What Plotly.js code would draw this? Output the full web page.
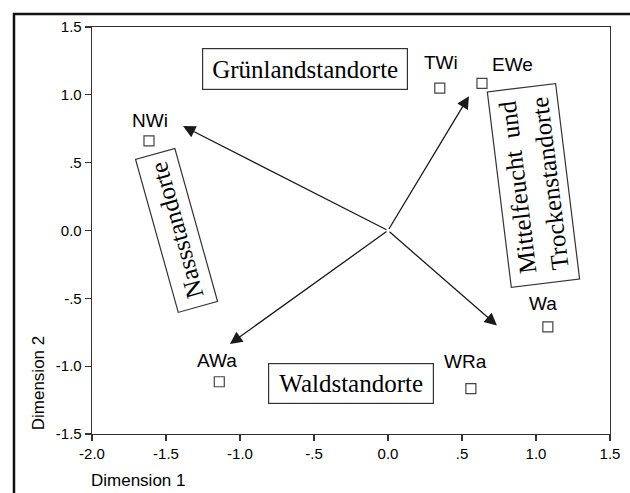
<!DOCTYPE html>
<html>
<head>
<meta charset="utf-8">
<script src="https://cdn.plot.ly/plotly-3.0.1.min.js"></script>
<style>
  html, body { margin: 0; padding: 0; background: #ffffff; }
  #chart { width: 630px; height: 493px; }
</style>
</head>
<body>
<div id="chart"></div>
<script>
// ---- data ----
const siteNames = ["NWi", "TWi", "EWe", "Wa", "WRa", "AWa"];
const dim1 = [-1.615, 0.35, 0.635, 1.08, 0.56, -1.14];
const dim2 = [0.66, 1.05, 1.085, -0.71, -1.165, -1.115];

// arrow tips (vectors from origin)
const vecX = [-1.385, 0.547, 0.736, -1.068];
const vecY = [0.77, 0.99, -0.70, -0.836];

// group labels
const groupText = ["Grünlandstandorte", "Nassstandorte", "Mittelfeucht&nbsp; und<br>Trockenstandorte", "Waldstandorte"];
const groupX = [-0.564, -1.432, 0.986, -0.25];
const groupY = [1.19, 0.0, 0.332, -1.127];

const tickVals = [-2, -1.5, -1, -0.5, 0, 0.5, 1, 1.5];
const xTickText = ["-2.0", "-1.5", "-1.0", "-.5", "0.0", ".5", "1.0", "1.5"];
const yTickVals = [-1.5, -1, -0.5, 0, 0.5, 1, 1.5];
const yTickText = ["-1.5", "-1.0", "-.5", "0.0", ".5", "1.0", "1.5"];

// ---- styles ----
const labelShiftX = [1, 1, 31, -5, -5, -2];
const labelShiftY = [20, 26, 19, 23, 27, 21];
const groupAngle = [0, -105.6, -97, 0];
const groupW = [204, 158, 196, 164];
const groupH = [40, 40, 68, 39];

const sans = "Liberation Sans, Arial, sans-serif";
const serif = "Liberation Serif, Times New Roman, serif";

const trace = {
  type: "scatter",
  mode: "markers",
  x: dim1,
  y: dim2,
  marker: { symbol: "square-open", size: 10, color: "#444", line: { width: 1.2, color: "#444" } },
  hoverinfo: "skip",
  showlegend: false
};

const annotations = [];
siteNames.forEach((n, i) => {
  annotations.push({
    x: dim1[i], y: dim2[i], xref: "x", yref: "y",
    text: n, showarrow: false,
    xshift: labelShiftX[i], yshift: labelShiftY[i],
    font: { family: sans, size: 19, color: "#000" }
  });
});
vecX.forEach((vx, i) => {
  annotations.push({
    x: vx, y: vecY[i], xref: "x", yref: "y",
    ax: 0, ay: 0, axref: "x", ayref: "y",
    text: "", showarrow: true,
    arrowhead: 2, arrowsize: 1.9, arrowwidth: 1.3, arrowcolor: "#1a1a1a",
    standoff: 0, startstandoff: 0
  });
});
groupText.forEach((t, i) => {
  annotations.push({
    x: groupX[i], y: groupY[i], xref: "x", yref: "y",
    text: t, showarrow: false, textangle: groupAngle[i],
    width: groupW[i], height: groupH[i],
    bordercolor: "#333", borderwidth: 1.2, borderpad: 0,
    bgcolor: "rgba(255,255,255,0)",
    font: { family: serif, size: 25, color: "#000" }
  });
});
// axis titles
annotations.push({
  x: 0, y: -0.085, xref: "paper", yref: "paper",
  xanchor: "left", yanchor: "top", xshift: -3,
  text: "Dimension 1", showarrow: false,
  font: { family: sans, size: 17, color: "#000" }
});
annotations.push({
  x: -0.104, y: 0.125, xref: "paper", yref: "paper",
  xanchor: "center", yanchor: "middle",
  text: "Dimension 2", showarrow: false, textangle: -90,
  font: { family: sans, size: 17, color: "#000" }
});

const axisCommon = {
  showgrid: false, zeroline: false,
  showline: true, mirror: true, linecolor: "#333", linewidth: 1.3,
  ticks: "outside", ticklen: 6, tickwidth: 1.2, tickcolor: "#333",
  tickfont: { family: sans, size: 15, color: "#000" },
  fixedrange: true
};

const layout = {
  width: 630, height: 493,
  margin: { l: 92, r: 20, t: 27, b: 59 },
  paper_bgcolor: "#ffffff", plot_bgcolor: "#ffffff",
  showlegend: false,
  xaxis: Object.assign({}, axisCommon, { range: [-2, 1.5], tickvals: tickVals, ticktext: xTickText }),
  yaxis: Object.assign({}, axisCommon, { range: [-1.5, 1.5], tickvals: yTickVals, ticktext: yTickText }),
  annotations: annotations,
  shapes: [{
    type: "rect", xref: "paper", yref: "paper",
    x0: -0.1506, x1: 1.3, y0: -0.4, y1: 1.032,
    line: { color: "#111", width: 2.5 }, fillcolor: "rgba(0,0,0,0)"
  }]
};

Plotly.newPlot("chart", [trace], layout, { displayModeBar: false, staticPlot: true });
</script>
</body>
</html>
